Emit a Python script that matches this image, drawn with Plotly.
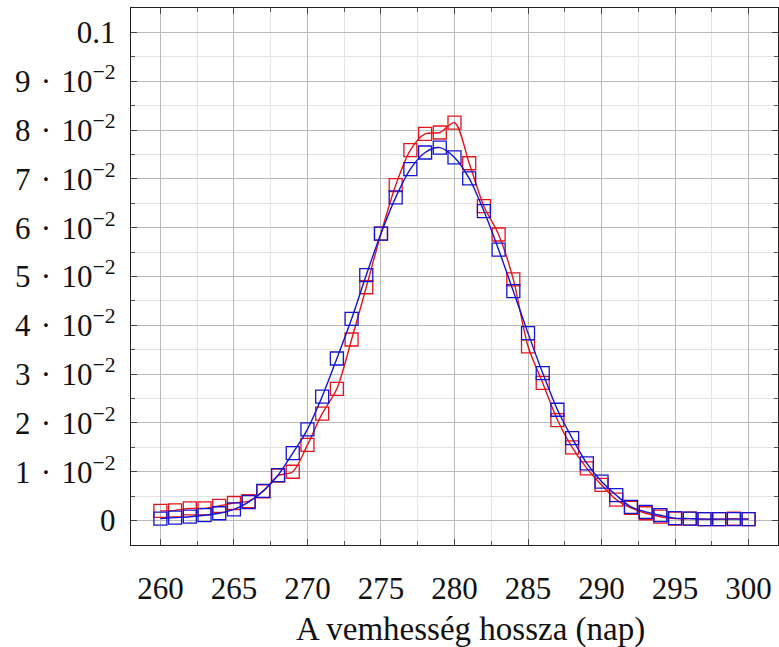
import plotly.graph_objects as go

# Gestation length (days) and relative frequencies
days = list(range(260, 301))

observed = [
    0.0020, 0.0021, 0.0025, 0.0025, 0.0030, 0.0036, 0.0040, 0.0060, 0.0092, 0.0100,
    0.0155, 0.0219, 0.0270, 0.0371, 0.0478, 0.0588, 0.0687, 0.0759, 0.0792, 0.0795,
    0.0815, 0.0732, 0.0644, 0.0586, 0.0494, 0.0357, 0.0282, 0.0206, 0.0150, 0.0107,
    0.0073, 0.0043, 0.0026, 0.0015, 0.0008, 0.0004, 0.0004, 0.0003, 0.0003, 0.0004,
    0.0003,
]

fitted = [
    0.0004, 0.0006, 0.0008, 0.0011, 0.0015, 0.0023, 0.0038, 0.0061, 0.0093, 0.0138,
    0.0187, 0.0254, 0.0332, 0.0413, 0.0503, 0.0588, 0.0662, 0.0720, 0.0754, 0.0764,
    0.0744, 0.0701, 0.0634, 0.0555, 0.0470, 0.0384, 0.0302, 0.0227, 0.0169, 0.0117,
    0.0080, 0.0052, 0.0028, 0.0018, 0.0011, 0.0005, 0.0004, 0.0003, 0.0003, 0.0003,
    0.0003,
]

x_ticks = list(range(260, 301, 5))
y_ticks = [i / 100 for i in range(11)]
y_ticktext = (["0"]
              + [f"{i}\u2004·\u200410<sup>−2</sup>" for i in range(1, 10)]
              + ["0.1"])

FONT = "Liberation Serif"
RED = "#e3141c"
BLUE = "#1414d2"

fig = go.Figure()

for values, color in ((observed, RED), (fitted, BLUE)):
    fig.add_trace(go.Scatter(
        x=days, y=values,
        mode="lines+markers",
        line=dict(color=color, width=1.4, shape="spline", smoothing=0.85),
        marker=dict(symbol="square-open", size=13, color=color,
                    line=dict(width=1.3, color=color)),
        showlegend=False,
        hoverinfo="skip",
    ))

axis_common = dict(
    showline=True, linecolor="#222222", linewidth=1.4, mirror="allticks",
    ticks="inside", ticklen=6, tickwidth=1, tickcolor="#444444",
    showgrid=True, gridcolor="#b9b9b9", gridwidth=1.2,
    zeroline=False,
    tickfont=dict(family=FONT, size=31, color="#111111"),
)

fig.update_xaxes(
    range=[258, 302],
    tickmode="array", tickvals=x_ticks, ticktext=[str(v) for v in x_ticks],
    minor=dict(tickmode="linear", tick0=260, dtick=2.5, showgrid=True,
               gridcolor="#e4e4e4", gridwidth=1, ticks="inside", ticklen=4,
               tickcolor="#555555"),
    ticklabelstandoff=16,
    **axis_common,
)

fig.update_yaxes(
    range=[-0.005, 0.105],
    tickmode="array", tickvals=y_ticks, ticktext=y_ticktext,
    minor=dict(tickmode="linear", tick0=0, dtick=0.005, showgrid=True,
               gridcolor="#e4e4e4", gridwidth=1, ticks="inside", ticklen=4,
               tickcolor="#555555"),
    ticklabelstandoff=8,
    **axis_common,
)

fig.add_annotation(
    text="A vemhesség hossza (nap)",
    xref="paper", yref="paper", x=0.524, y=-0.157,
    xanchor="center", yanchor="middle", showarrow=False,
    font=dict(family=FONT, size=33, color="#111111"),
)

fig.update_layout(
    width=779, height=647,
    margin=dict(l=131, r=1, t=8, b=102),
    paper_bgcolor="white", plot_bgcolor="white",
)

fig.write_html("out.html")
